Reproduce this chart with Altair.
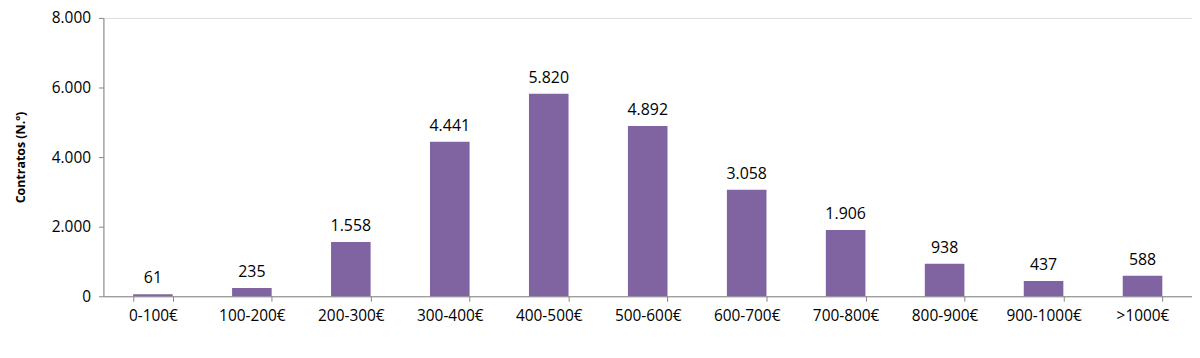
import altair as alt
import pandas as pd

categories = ["0-100€", "100-200€", "200-300€", "300-400€", "400-500€", "500-600€",
              "600-700€", "700-800€", "800-900€", "900-1000€", ">1000€"]
values = [61, 235, 1558, 4441, 5820, 4892, 3058, 1906, 938, 437, 588]
y_ticks = [0, 2000, 4000, 6000, 8000]

df = pd.DataFrame({"cat": categories, "val": values})

FONT = "Open Sans"
BAR = "#8064A2"
AXIS = "#868686"

x = alt.X("cat:N", sort=categories, title=None,
          scale=alt.Scale(paddingInner=0.6, paddingOuter=0.3),
          axis=alt.Axis(labelAngle=0, labelFont=FONT, labelFontSize=15.5, labelColor="#000000",
                        labelPadding=7, tickBand="extent", tickSize=5, tickColor=AXIS,
                        domainColor=AXIS, domainWidth=1, grid=False))
y = alt.Y("val:Q", title="Contratos (N.º)",
          scale=alt.Scale(domain=[0, 8000], nice=False),
          axis=alt.Axis(values=y_ticks, labelFont=FONT, labelFontSize=15.5, labelColor="#000000",
                        labelExpr="replace(format(datum.value, ','), ',', '.')",
                        labelPadding=8, tickSize=5, tickColor=AXIS, domainColor=AXIS,
                        grid=False, titleFont=FONT, titleFontSize=12.5, titleFontWeight="bold",
                        titleColor="#000000", titlePadding=24))

bars = alt.Chart(df).mark_bar(color=BAR).encode(x=x, y=y)
labels = alt.Chart(df).transform_calculate(
    lbl="replace(format(datum.val, ','), ',', '.')"
).mark_text(font=FONT, fontSize=16, color="#000000", baseline="alphabetic", dy=-11).encode(
    x=alt.X("cat:N", sort=categories), y="val:Q", text="lbl:N")

chart = (bars + labels).properties(
    width=1095, height=280,
    autosize=alt.AutoSizeParams(type="none"),
    padding={"left": 96, "top": 9, "right": 0, "bottom": 40},
).configure_view(stroke=None).configure(background="white")

chart.save("out.html", embed_options={"renderer": "svg", "actions": False})
